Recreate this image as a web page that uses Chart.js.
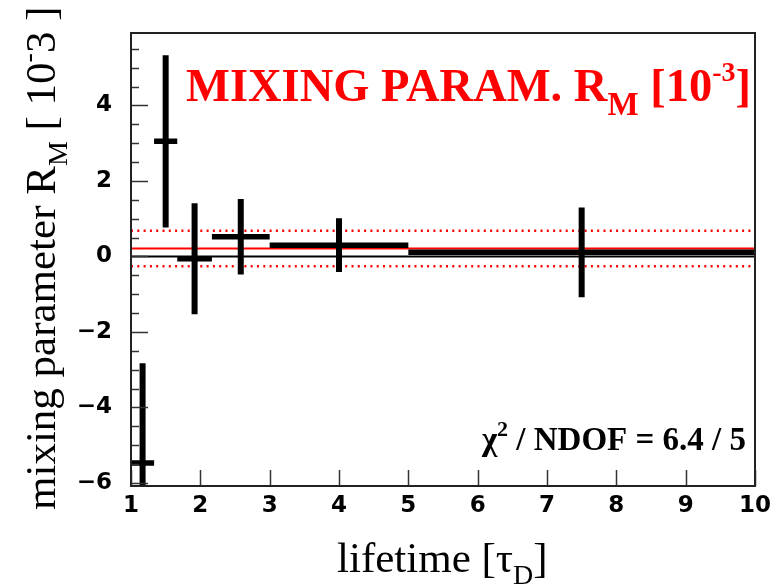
<!DOCTYPE html>
<html><head><meta charset="utf-8">
<script src="https://cdn.jsdelivr.net/npm/chart.js@4"></script>
<style>html,body{margin:0;padding:0;background:#fff;} canvas{display:block;}</style>
</head><body>
<canvas id="c" width="778" height="587"></canvas>
<script>
// ---- data ----
const binLow    = [1.0, 1.333, 1.667, 2.167, 3.0, 5.0];
const binHigh   = [1.333, 1.667, 2.167, 3.0, 5.0, 10.0];
const lifetime  = [1.167, 1.5, 1.917, 2.583, 4.0, 7.5];
const mixingR   = [-5.47, 3.05, -0.06, 0.52, 0.30, 0.11];
const mixingErr = [2.64, 2.28, 1.47, 1.00, 0.71, 1.19];
const fitValue = 0.21;
const fitError = 0.47;
const xTickValues = [1, 2, 3, 4, 5, 6, 7, 8, 9, 10];
const yTickValues = [-6, -4, -2, 0, 2, 4];
const xRange = [1, 10];
const yRange = [-6.08, 5.92];

// ---- build line data from arrays ----
const horizData = [];
const vertData = [];
for (let i = 0; i < lifetime.length; i++) {
  horizData.push({x: binLow[i], y: mixingR[i]}, {x: binHigh[i], y: mixingR[i]}, {x: binHigh[i], y: null});
  vertData.push({x: lifetime[i], y: mixingR[i] - mixingErr[i]}, {x: lifetime[i], y: mixingR[i] + mixingErr[i]}, {x: lifetime[i], y: null});
}
const hline = v => [{x: xRange[0], y: v}, {x: xRange[1], y: v}];

function measureRich(ctx, parts) {
  let w = 0;
  for (const p of parts) { ctx.font = p[1]; w += ctx.measureText(p[0]).width; }
  return w;
}
function rich(ctx, parts, x, y) {
  let cx = x;
  for (const p of parts) {
    ctx.font = p[1];
    ctx.fillText(p[0], cx, y + (p[2] || 0));
    cx += ctx.measureText(p[0]).width;
  }
  return cx - x;
}

const decor = {
  id: 'decor',
  afterDatasetsDraw(chart) {
    const {ctx, chartArea: a, scales: {x, y}} = chart;
    ctx.save();
    // ticks
    ctx.strokeStyle = '#333';
    ctx.lineWidth = 1.5;
    for (let k = Math.ceil(y.min * 2); k <= Math.floor(y.max * 2); k++) {
      const v = k / 2;
      const py = Math.round(y.getPixelForValue(v)) + 0.5;
      const major = (k % 4 === 0);
      ctx.beginPath(); ctx.moveTo(a.left, py); ctx.lineTo(a.left + (major ? 17 : 8), py); ctx.stroke();
    }
    for (const v of xTickValues) {
      const px = Math.round(x.getPixelForValue(v)) + 0.5;
      ctx.beginPath(); ctx.moveTo(px, a.bottom); ctx.lineTo(px, a.bottom - 16); ctx.stroke();
    }
    // frame
    ctx.strokeStyle = '#222';
    ctx.lineWidth = 2;
    ctx.strokeRect(a.left, a.top, a.right - a.left, a.bottom - a.top);

    ctx.textBaseline = 'alphabetic';
    ctx.textAlign = 'left';
    const tf = '"Liberation Serif", "Times New Roman", serif';
    // title
    ctx.fillStyle = '#ff0000';
    rich(ctx, [
      ['MIXING PARAM. R', 'bold 46.5px ' + tf],
      ['M', 'bold 33px ' + tf, 14],
      [' [10', 'bold 46.5px ' + tf],
      ['-3', 'bold 28px ' + tf, -20],
      [']', 'bold 46.5px ' + tf]
    ], 186, 101);
    // chi2
    ctx.fillStyle = '#000';
    const chi = [
      ['\u03C7', 'bold 33px ' + tf],
      ['2', 'bold 22px ' + tf, -14],
      [' / NDOF = 6.4 / 5', 'bold 33px ' + tf]
    ];
    rich(ctx, chi, 746 - measureRich(ctx, chi), 450);
    // x title
    rich(ctx, [
      ['lifetime [\u03C4', '43px ' + tf],
      ['D', '28px ' + tf, 12],
      [']', '43px ' + tf]
    ], 337, 572);
    // y title
    ctx.translate(55, 510);
    ctx.rotate(-Math.PI / 2);
    rich(ctx, [
      ['mixing parameter R', '43px ' + tf],
      ['M', '28px ' + tf, 12],
      [' [ 10', '43px ' + tf],
      ['-', '28px ' + tf, -18],
      ['3 ]', '43px ' + tf]
    ], 0, 0);
    ctx.restore();
  }
};

const tickFont = {family: '"DejaVu Sans"', weight: 'bold', size: 23};

new Chart(document.getElementById('c'), {
  type: 'scatter',
  data: {
    datasets: [
      {data: horizData, showLine: true, spanGaps: false, borderColor: '#000', borderWidth: 5.5, borderCapStyle: 'butt', pointRadius: 0, order: 0, clip: 0},
      {data: vertData, showLine: true, spanGaps: false, borderColor: '#000', borderWidth: 6, borderCapStyle: 'butt', pointRadius: 0, order: 0, clip: 0},
      {data: hline(fitValue), showLine: true, borderColor: '#ff0000', borderWidth: 2, pointRadius: 0, order: 2, clip: 0},
      {data: hline(fitValue + fitError), showLine: true, borderColor: '#ff0000', borderWidth: 2.5, borderDash: [2, 4.3], pointRadius: 0, order: 2, clip: 0},
      {data: hline(fitValue - fitError), showLine: true, borderColor: '#ff0000', borderWidth: 2.5, borderDash: [2, 4.3], pointRadius: 0, order: 2, clip: 0},
      {data: hline(0), showLine: true, borderColor: '#000', borderWidth: 2, pointRadius: 0, order: 3, clip: 0}
    ]
  },
  options: {
    responsive: false,
    animation: false,
    devicePixelRatio: 1,
    layout: {padding: {top: 33, right: 23, left: 0, bottom: 0}},
    plugins: {legend: {display: false}, tooltip: {enabled: false}},
    scales: {
      x: {
        type: 'linear', min: xRange[0], max: xRange[1],
        afterBuildTicks: s => { s.ticks = xTickValues.map(v => ({value: v})); },
        afterFit: s => { s.height = 101; },
        grid: {display: false, drawTicks: false},
        border: {display: false},
        ticks: {font: tickFont, color: '#000', padding: 6, maxRotation: 0, autoSkip: false}
      },
      y: {
        type: 'linear', min: yRange[0], max: yRange[1],
        afterBuildTicks: s => { s.ticks = yTickValues.map(v => ({value: v})); },
        afterFit: s => { s.width = 131; },
        grid: {display: false, drawTicks: false},
        border: {display: false},
        ticks: {font: tickFont, color: '#000', padding: 19, autoSkip: false,
          callback: v => String(v).replace('-', '\u2212')}
      }
    }
  },
  plugins: [decor]
});
</script>
</body></html>
